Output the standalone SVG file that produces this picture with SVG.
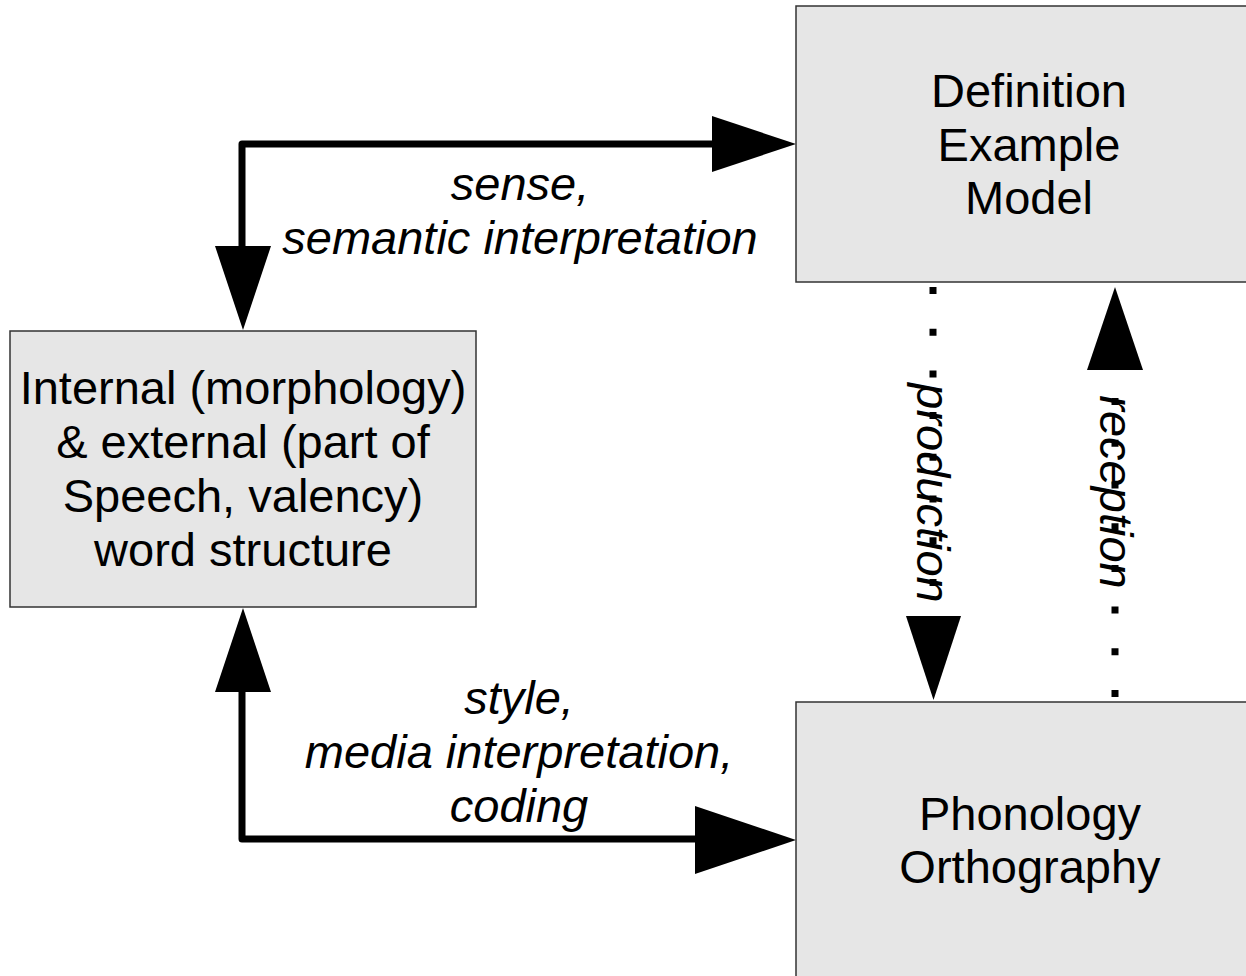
<svg xmlns="http://www.w3.org/2000/svg" width="1246" height="976" viewBox="0 0 1246 976">
<style>
.box{fill:#e6e6e6;stroke:#333;stroke-width:1.5}
.t{font-family:"Liberation Sans",Arial,sans-serif;font-size:47px;fill:#000;text-anchor:middle}
.lbl{font-style:italic}
.line{fill:none;stroke:#000;stroke-width:7;stroke-linejoin:round}
.dot{fill:none;stroke:#000;stroke-width:7;stroke-dasharray:7 34.7}
.head{fill:#000}
</style>
<rect width="1246" height="976" fill="#fff"/>
<g id="connectors">
  <path class="line" d="M712 144 L242 144 L242 247"/>
  <polygon class="head" points="712,116 796,144 712,172"/>
  <polygon class="head" points="215,246 271,246 243,330"/>
  <path class="line" d="M242 691 L242 839 L696 839"/>
  <polygon class="head" points="215,692 271,692 243,608"/>
  <polygon class="head" points="695,806 796,840 695,874"/>
  <path class="dot" d="M933 287 L933 616"/>
  <polygon class="head" points="906,616 961,616 933.5,700"/>
  <path class="dot" d="M1115 697 L1115 370"/>
  <polygon class="head" points="1087,370 1143,370 1115,287"/>
  <text class="t lbl" x="520" y="200">sense,</text>
  <text class="t lbl" x="520" y="254">semantic interpretation</text>
  <text class="t lbl" x="519" y="714">style,</text>
  <text class="t lbl" x="519" y="768">media interpretation,</text>
  <text class="t lbl" x="519" y="822">coding</text>
  <text class="t lbl" x="917" y="493" transform="rotate(90 917 493)">production</text>
  <text class="t lbl" x="1100" y="492" transform="rotate(90 1100 492)">reception</text>
</g>
<g id="node-definition">
  <rect class="box" x="796" y="6" width="470" height="276"/>
  <text class="t" x="1029" y="107">Definition</text>
  <text class="t" x="1029" y="161">Example</text>
  <text class="t" x="1029" y="214">Model</text>
</g>
<g id="node-word-structure">
  <rect class="box" x="10" y="331" width="466" height="276"/>
  <text class="t" x="243" y="404">Internal (morphology)</text>
  <text class="t" x="243" y="458">&amp; external (part of</text>
  <text class="t" x="243" y="512">Speech, valency)</text>
  <text class="t" x="243" y="566">word structure</text>
</g>
<g id="node-phonology">
  <rect class="box" x="796" y="702" width="470" height="300"/>
  <text class="t" x="1030" y="830">Phonology</text>
  <text class="t" x="1030" y="883">Orthography</text>
</g>
</svg>
